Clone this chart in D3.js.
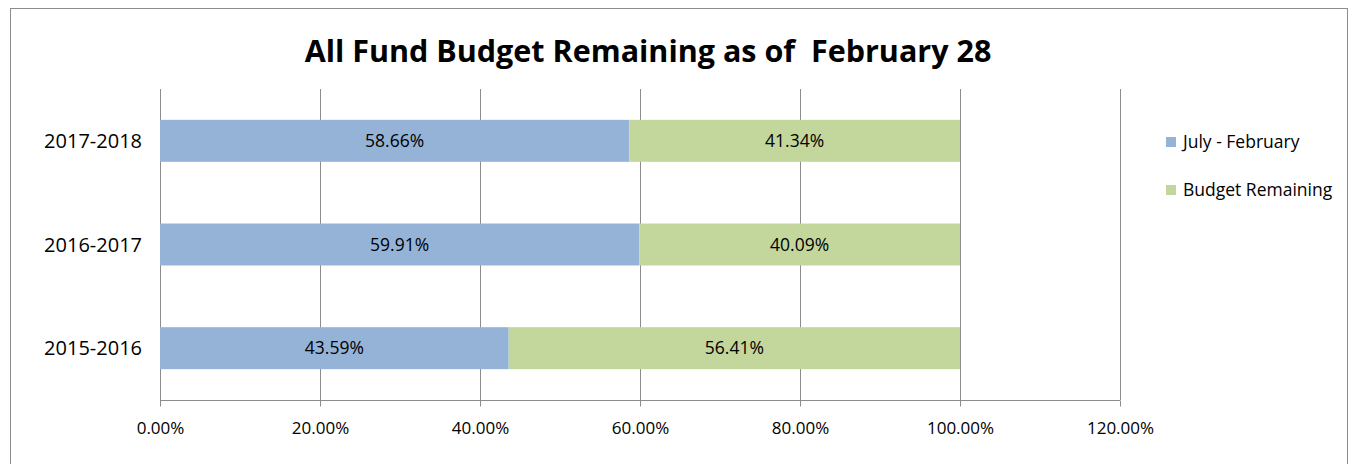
<!DOCTYPE html>
<html>
<head>
<meta charset="utf-8">
<script src="https://cdn.jsdelivr.net/npm/d3@7"></script>
<style>
  body { margin: 0; background: #fff; }
  text { font-family: "Open Sans", "Noto Sans", sans-serif; fill: #000; }
</style>
</head>
<body>
<div id="chart"></div>
<script>
// Data (top to bottom as drawn)
const categories = ['2017-2018', '2016-2017', '2015-2016'];
const julyFeb = [58.66, 59.91, 43.59];
const remaining = [41.34, 40.09, 56.41];
const seriesNames = ['July - February', 'Budget Remaining'];
const seriesColors = ['#95b3d7', '#c3d69b'];
const xTicks = [0, 20, 40, 60, 80, 100, 120];

const W = 1353, H = 464;
const plot = { left: 160, right: 1120, top: 89, bottom: 400 };

const svg = d3.select('#chart').append('svg')
    .attr('width', W)
    .attr('height', H);

// Outer frame
svg.append('rect')
    .attr('x', 10.5).attr('y', 8.5)
    .attr('width', 1337).attr('height', 470)
    .attr('fill', '#fff')
    .attr('stroke', '#8c8c8c')
    .attr('stroke-width', 1);

// Title
svg.append('text')
    .attr('x', 648).attr('y', 62)
    .attr('text-anchor', 'middle')
    .attr('xml:space', 'preserve')
    .style('font-size', '30.5px')
    .style('font-weight', 'bold')
    .text('All Fund Budget Remaining as of  February 28');

const x = d3.scaleLinear().domain([0, 120]).range([plot.left, plot.right]);
const y = d3.scaleBand().domain(categories).range([plot.top, plot.bottom]).padding(0);
const barH = y.bandwidth() * 0.405;

// Grid lines
svg.append('g')
    .selectAll('line')
    .data(xTicks)
    .enter()
    .append('line')
    .attr('x1', d => Math.round(x(d)) + 0.5)
    .attr('x2', d => Math.round(x(d)) + 0.5)
    .attr('y1', plot.top)
    .attr('y2', plot.bottom)
    .attr('stroke', '#8c8c8c')
    .attr('stroke-width', 1);

// Stacked bars
const rows = categories.map((c, i) => ({ cat: c, vals: [julyFeb[i], remaining[i]] }));
rows.forEach(r => {
    let acc = 0;
    r.vals.forEach((v, s) => {
        const x0 = x(acc), x1 = x(acc + v);
        const yc = y(r.cat) + y.bandwidth() / 2;
        svg.append('rect')
            .attr('x', x0)
            .attr('y', yc - barH / 2)
            .attr('width', x1 - x0)
            .attr('height', barH)
            .attr('fill', seriesColors[s]);
        svg.append('text')
            .attr('x', (x0 + x1) / 2)
            .attr('y', yc)
            .attr('dy', '0.36em')
            .attr('text-anchor', 'middle')
            .style('font-size', '17.5px')
            .text(v.toFixed(2) + '%');
        acc += v;
    });
});

// X axis
const xAxis = svg.append('g')
    .attr('transform', `translate(0,${plot.bottom + 0.5})`)
    .call(d3.axisBottom(x).tickValues(xTicks).tickSize(6).tickFormat(d => d.toFixed(2) + '%'));
xAxis.selectAll('path, line').attr('stroke', '#8c8c8c');
xAxis.select('.domain').attr('d', `M${plot.left},0H${plot.right}`);
xAxis.selectAll('text')
    .attr('y', 33)
    .attr('dy', null)
    .style('font-family', '"Open Sans", sans-serif')
    .style('font-size', '17px')
    .attr('fill', '#000');

// Category labels
svg.append('g')
    .selectAll('text')
    .data(categories)
    .enter()
    .append('text')
    .attr('x', plot.left - 18)
    .attr('y', d => y(d) + y.bandwidth() / 2)
    .attr('dy', '0.36em')
    .attr('text-anchor', 'end')
    .style('font-size', '20px')
    .text(d => d);

// Legend
const legend = svg.append('g').attr('transform', 'translate(1166,142)');
seriesNames.forEach((n, i) => {
    const g = legend.append('g').attr('transform', `translate(0,${i * 48})`);
    g.append('rect')
        .attr('x', 0).attr('y', -5)
        .attr('width', 10).attr('height', 10)
        .attr('fill', seriesColors[i]);
    g.append('text')
        .attr('x', 17).attr('y', 0)
        .attr('dy', '0.36em')
        .style('font-size', '17.5px')
        .text(n);
});
</script>
</body>
</html>
